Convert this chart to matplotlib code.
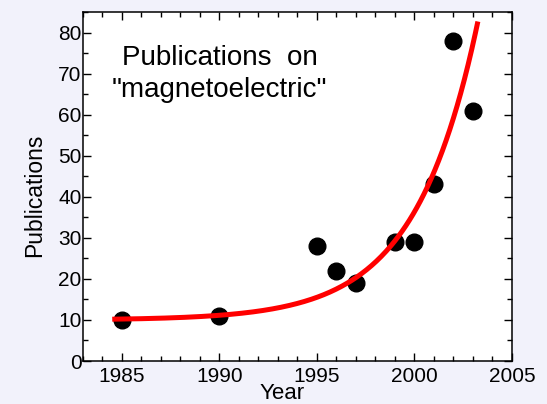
"""Publication count per year on "magnetoelectric", with an exponential trend."""
import numpy as np
import matplotlib
matplotlib.use('Agg')
import matplotlib.pyplot as plt
from matplotlib.ticker import MultipleLocator

years = [1985, 1990, 1995, 1996, 1997, 1999, 2000, 2001, 2002, 2003]
pubs = [10, 11, 28, 22, 19, 29, 29, 43, 78, 61]

# trend: y = FIT_A + FIT_B * exp(FIT_C * (year - 1985))
FIT_A = 9.975
FIT_B = 0.24475
FIT_C = 0.312
FIT_START, FIT_END = 1984.5, 2003.25

plt.rcParams['font.family'] = ['Liberation Sans', 'DejaVu Sans']

fig = plt.figure(figsize=(5.47, 4.04), dpi=100, facecolor='#f2f2fb')
ax = fig.add_axes([0.1517, 0.1064, 0.7843, 0.8639])
ax.set_facecolor('white')

ax.plot(years, pubs, 'o', color='black', markersize=12, zorder=2)

t = np.linspace(FIT_START, FIT_END, 300)
ax.plot(t, FIT_A + FIT_B * np.exp(FIT_C * (t - 1985)), color='#ff0000',
        linewidth=3.6, solid_capstyle='butt', zorder=3)

ax.set_xlim(1983, 2005)
ax.set_ylim(0, 85)
ax.xaxis.set_major_locator(MultipleLocator(5))
ax.xaxis.set_minor_locator(MultipleLocator(1))
ax.yaxis.set_major_locator(MultipleLocator(10))
ax.yaxis.set_minor_locator(MultipleLocator(5))
ax.tick_params(which='both', direction='in', top=True, right=True, width=1, labelsize=15)
ax.tick_params(which='major', length=6)
ax.tick_params(which='minor', length=3.5)
ax.tick_params(axis='x', pad=4)
ax.tick_params(axis='y', pad=1)
for sp in ax.spines.values():
    sp.set_linewidth(1.1)

ax.text(0.318, 0.905, 'Publications  on\n"magnetoelectric"', transform=ax.transAxes,
        ha='center', va='top', multialignment='center', fontsize=20, linespacing=1.3)

fig.text(282 / 547, 1 - 399 / 404, 'Year', ha='center', va='baseline', fontsize=16)
fig.text(35 / 547, 1 - 195 / 404, 'Publications', rotation=90,
         ha='center', va='center', fontsize=16.5)

fig.savefig('out.png', dpi=100, facecolor=fig.get_facecolor())
